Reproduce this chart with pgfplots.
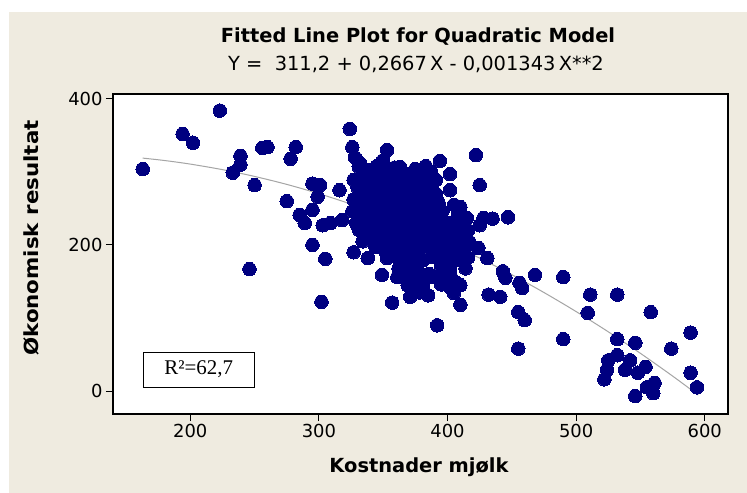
\documentclass[border=0pt]{standalone}
\usepackage{fontspec}
\setmainfont{DejaVu Sans}
\newfontfamily\seriffont{Liberation Serif}
\usepackage{pgfplots}
\pgfplotsset{compat=1.18}
\definecolor{bgbeige}{RGB}{239,235,224}
\definecolor{dotblue}{RGB}{0,0,128}
\definecolor{fitgray}{RGB}{165,165,165}

\begin{document}
\begin{tikzpicture}
\useasboundingbox (0,0) rectangle (747bp,-493bp);
\fill[white] (0,0) rectangle (747bp,-493bp);
\fill[bgbeige] (9bp,-12bp) rectangle (747bp,-493bp);

% titles
\node[font=\fontsize{19.5}{22}\selectfont\bfseries, anchor=base] at (418bp,-42bp)
  {Fitted Line Plot for Quadratic Model};
\node[font=\fontsize{19.5}{22}\selectfont, anchor=base] at (416bp,-70bp)
  {Y =\ \ 311,2 + 0,2667\,X - 0,001343\,X**2};

\begin{axis}[
  at={(113bp,-414bp)}, anchor=south west,
  scale only axis, width=615bp, height=320bp,
  xmin=139.9, xmax=618.1, ymin=-31.5, ymax=406.8,
  axis background/.style={fill=white},
  axis line style={line width=1.8bp, black},
  xtick={200,300,400,500,600}, ytick={0,200,400},
  tick align=outside, xtick pos=bottom, ytick pos=left,
  major tick length=7bp,
  tick style={black, line width=1bp},
  ticklabel style={font=\fontsize{18}{20}\selectfont},
  /pgf/number format/assume math mode=true,
]
% observations
\addplot[only marks, mark=*, mark size=6.8pt, color=dotblue, mark options={line width=0pt}] coordinates {
  (163,304) (223,384) (194,352) (202,340) (239,322) (239,310) (233,299) (256,333)
  (260,334) (282,334) (278,318) (250,282) (275,260) (285,241) (289,230) (295,284)
  (301,282) (299,266) (316,275) (295,248) (303,227) (309,230) (318,234) (295,200)
  (305,181) (302,122) (324,359) (246,167) (327,289) (327,262) (327,190) (338,182)
  (349,159) (357,121) (371,129) (369,145) (353,182) (392,90) (410,118) (410,145)
  (386,160) (326,334) (328,320) (332,312) (353,330) (350,316) (363,307) (378,300)
  (394,315) (422,323) (402,297) (425,282) (402,275) (387,300) (447,238) (428,237)
  (435,236) (415,237) (410,252) (425,227) (424,196) (431,182) (443,164) (445,155)
  (432,132) (441,129) (456,148) (458,141) (455,108) (460,97) (468,159) (490,156)
  (511,132) (532,132) (509,107) (558,108) (589,80) (490,71) (532,71) (546,66)
  (574,58) (525,42) (532,49) (542,42) (524,29) (522,16) (538,29) (548,25)
  (554,33) (561,11) (555,5) (546,-7) (560,-3) (589,25) (594,5) (455,58)
  (331,307) (338,303) (345,308) (352,302) (359,306) (375,304) (383,308)
  (334,291) (341,296) (348,290) (356,295) (363,292) (370,297) (378,290) (385,294) (391,289)
  (330,279) (337,284) (344,280) (351,283) (358,278) (366,282) (373,279) (380,284) (388,280)
  (333,270) (340,266) (347,271) (355,267) (362,270) (369,265) (376,269) (383,266) (391,270)
  (330,254) (337,258) (344,253) (351,257) (358,255) (365,259) (372,254) (379,257) (386,253) (393,258) (405,255)
  (326,246) (333,242) (340,245) (347,241) (354,246) (361,243) (368,247) (375,242) (382,245) (389,241) (396,246) (408,243)
  (329,230) (336,234) (343,229) (350,233) (357,231) (364,235) (371,230) (378,233) (385,229) (392,234) (399,231) (406,233) (413,229)
  (331,221) (338,217) (345,220) (352,216) (359,221) (366,218) (373,222) (380,217) (387,220) (394,216) (401,221) (408,218) (416,220)
  (334,205) (341,209) (348,204) (355,208) (362,206) (369,210) (376,205) (383,209) (390,204) (397,208) (404,205) (411,209) (417,204)
  (344,197) (351,193) (358,196) (365,192) (372,197) (379,194) (386,198) (393,193) (400,196) (407,192) (414,197)
  (360,184) (367,180) (374,183) (381,179) (388,184) (395,181) (402,185) (409,180) (416,183)
  (362,168) (369,172) (376,167) (395,171) (402,167) (414,168)
  (361,156) (368,160) (375,155) (382,159) (389,156) (396,160) (403,155)
  (374,147) (381,143) (395,146) (402,142) (407,148)
  (378,135) (385,131) (405,134)
};
% fitted quadratic, values of the printed equation
\addplot[fitgray, line width=1bp, smooth] coordinates {
  (163,319.0) (180,315.7) (200,310.8) (225,303.2) (250,293.9) (275,283.0)
  (300,270.3) (325,256.0) (350,240.0) (375,222.4) (400,203.0) (425,182.0)
  (450,159.3) (475,134.9) (500,108.8) (525,81.1) (550,51.6) (575,20.5) (595,-5.6)
};
\end{axis}

% R-squared box
\node[draw=black, line width=0.8bp, fill=white, minimum width=111bp, minimum height=35bp,
  inner sep=0pt, font=\seriffont\fontsize{21}{24}\selectfont] at (198.7bp,-369.5bp) {R²=62,7};

% axis titles
\node[font=\fontsize{19.5}{22}\selectfont\bfseries, anchor=base] at (419bp,-472bp) {Kostnader mjølk};
\node[font=\fontsize{19.5}{22}\selectfont\bfseries, rotate=90, anchor=center] at (31bp,-238bp)
  {\scalebox{1.1}[1]{Økonomisk resultat}};
\end{tikzpicture}
\end{document}
